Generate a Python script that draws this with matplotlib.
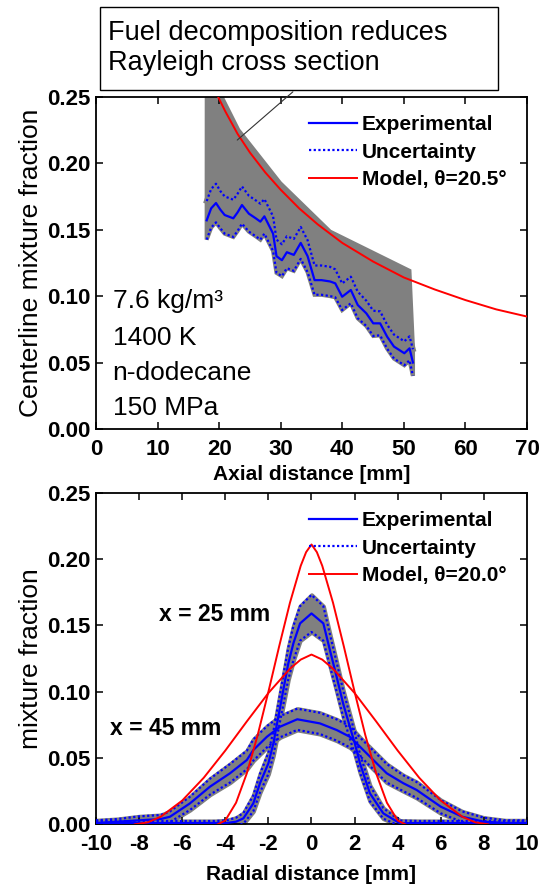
import matplotlib
matplotlib.use('Agg')
import matplotlib.pyplot as plt
from matplotlib.patches import Rectangle
import numpy as np

plt.rcParams['font.family'] = ['Liberation Sans', 'DejaVu Sans']
plt.rcParams['axes.unicode_minus'] = False

# ---- top panel: centerline mixture fraction vs axial distance ----
axial_x = [17.98, 18.7, 19.49, 20.2, 20.90, 22.30, 23.0, 23.71, 24.83, 25.95, 26.7, 27.35,
           28.76, 29.32, 30.2, 31.00, 32.13, 33.25, 34.37, 35.50, 36.62, 38.02, 38.86,
           39.98, 41.39, 42.51, 43.91, 45.03, 46.15, 47.28, 48.40, 50.08, 50.92, 51.48]
axial_exp = [0.157, 0.166, 0.170, 0.165, 0.161, 0.1585, 0.163, 0.1685, 0.162, 0.1585, 0.156, 0.160,
             0.147, 0.130, 0.127, 0.133, 0.131, 0.140, 0.130, 0.112, 0.112, 0.111, 0.1096,
             0.0995, 0.1046, 0.0933, 0.087, 0.0795, 0.0795, 0.0695, 0.062, 0.057, 0.0607, 0.050]
axial_unc = [0.0145, 0.0145, 0.0145, 0.014, 0.014, 0.014, 0.014, 0.014, 0.0135, 0.0135, 0.0135, 0.013,
             0.013, 0.0125, 0.012, 0.012, 0.012, 0.012, 0.012, 0.011, 0.011, 0.011, 0.0105,
             0.010, 0.010, 0.010, 0.0095, 0.0095, 0.009, 0.009, 0.009, 0.009, 0.009, 0.010]
rayleigh_x = [18.0, 23.1, 29.9, 38.0, 50.9]
rayleigh_hi = [0.272, 0.225, 0.185, 0.1485, 0.119]
model_ax_x = [19.5, 21, 23, 25, 27.5, 30, 33, 36, 40, 45, 50, 55, 60, 65, 70]
model_ax_y = [0.253, 0.239, 0.222, 0.208, 0.193, 0.180, 0.166, 0.154, 0.140, 0.126, 0.114,
              0.105, 0.097, 0.090, 0.0846]

# ---- bottom panel: radial profiles ----
r25 = [-10, -8, -6, -5, -4.5, -3.94, -3.5, -3.16, -2.70, -2.39, -2.0, -1.77, -1.54, -1.31,
       -1.08, -0.84, -0.53, 0.0, 0.55, 0.86, 1.17, 1.47, 1.78, 2.01, 2.25, 2.71, 3.33, 4.1,
       5, 6, 8, 10]
exp25 = [0.001, 0.001, 0.001, 0.001, 0.001, 0.001, 0.002, 0.0045, 0.0158, 0.031, 0.046, 0.061,
         0.081, 0.101, 0.121, 0.1365, 0.1515, 0.159, 0.1515, 0.131, 0.111, 0.091, 0.0736, 0.061,
         0.046, 0.0234, 0.0083, 0.0008, 0.001, 0.001, 0.001, 0.001]
unc25 = [0.0015, 0.0015, 0.0015, 0.0015, 0.0015, 0.002, 0.003, 0.004, 0.006, 0.007, 0.008, 0.009,
         0.010, 0.011, 0.012, 0.013, 0.013, 0.014, 0.013, 0.012, 0.011, 0.010, 0.009, 0.008,
         0.007, 0.006, 0.004, 0.002, 0.0015, 0.0015, 0.0015, 0.0015]

r45 = [-10, -9, -8, -7, -6.57, -5.64, -4.71, -3.78, -3.0, -2.70, -2.07, -1.46, -0.66, 0.39,
       1.17, 1.78, 2.25, 2.87, 3.49, 4.26, 4.88, 6, 7, 8, 9, 10]
exp45 = [0.001, 0.002, 0.003, 0.004, 0.0057, 0.0158, 0.0284, 0.0385, 0.0485, 0.056, 0.066,
         0.0736, 0.0792, 0.0761, 0.0711, 0.066, 0.0585, 0.0485, 0.0385, 0.031, 0.0259, 0.0133,
         0.0057, 0.002, 0.001, 0.001]
unc45 = [0.002, 0.002, 0.003, 0.003, 0.004, 0.005, 0.006, 0.007, 0.007, 0.008, 0.008, 0.008,
         0.008, 0.008, 0.008, 0.008, 0.007, 0.007, 0.007, 0.006, 0.006, 0.005, 0.004, 0.003,
         0.002, 0.002]

rm25 = [-4.35, -4, -3.5, -3, -2.5, -2, -1.5, -1, -0.5, -0.25, 0, 0.25, 0.5, 1, 1.5, 2, 2.5,
        3, 3.5, 4, 4.35]
model25 = [0, 0.0029, 0.0163, 0.0385, 0.0671, 0.0999, 0.1342, 0.1670, 0.1949, 0.2052, 0.211,
           0.2052, 0.1949, 0.1670, 0.1342, 0.0999, 0.0671, 0.0385, 0.0163, 0.0029, 0]
rm45 = [-8.2, -7.6, -7, -6, -5, -4, -3, -2, -1, -0.5, 0, 0.5, 1, 2, 3, 4, 5, 6, 7, 7.6, 8.2]
model45 = [0, 0.0015, 0.0057, 0.0179, 0.0351, 0.0556, 0.0776, 0.0990, 0.1173, 0.1242, 0.128,
           0.1242, 0.1173, 0.0990, 0.0776, 0.0556, 0.0351, 0.0179, 0.0057, 0.0015, 0]

GRAY = '#808080'
BLUE = '#0000ff'
RED = '#ff0000'
DOT = (0, (1, 1.1))
TICK_FS = 16
LAB_FS = 19


def style_axes(ax):
    for s in ax.spines.values():
        s.set_linewidth(1.3)
    ax.tick_params(direction='in', top=True, right=True, length=5, width=1.1,
                   labelsize=TICK_FS)
    ax.tick_params(axis='x', pad=7)
    ax.tick_params(axis='y', pad=4)
    for lab in ax.get_xticklabels() + ax.get_yticklabels():
        lab.set_fontweight('bold')
    ax.set_yticks(np.arange(0, 0.26, 0.05))
    ax.set_yticklabels(['%.2f' % v for v in np.arange(0, 0.26, 0.05)], fontweight='bold')


fig = plt.figure(figsize=(5.42, 8.84), dpi=100)
ax1 = fig.add_axes([0.1771, 0.5147, 0.7952, 0.3759])
ax2 = fig.add_axes([0.1771, 0.0675, 0.7952, 0.3751])

legend_kw = dict(loc='upper left', bbox_to_anchor=(0.494, 0.945), frameon=False,
                 prop={'size': 15, 'weight': 'bold'}, handlelength=2.3, handletextpad=0.25,
                 labelspacing=0.42, borderpad=0, borderaxespad=0)

# top panel
ax_exp = np.array(axial_exp)
ax_unc = np.array(axial_unc)
ax_lo = ax_exp - ax_unc
ax_hi = ax_exp + ax_unc
poly_x = list(rayleigh_x) + [axial_x[-1]] + list(axial_x[::-1])
poly_y = list(rayleigh_hi) + [ax_hi[-1]] + list(ax_lo[::-1])
ax1.fill(poly_x, poly_y, facecolor=GRAY, edgecolor=GRAY, lw=3, zorder=1)
ax1.plot(axial_x, ax_hi, color=GRAY, lw=4, zorder=1.5)
ax1.plot(axial_x, axial_exp, color=BLUE, lw=1.6, zorder=3, label='Experimental')
ax1.plot(axial_x, ax_hi, color=BLUE, lw=1.6, ls=DOT, zorder=3, label='Uncertainty')
ax1.plot(axial_x, ax_lo, color=BLUE, lw=1.6, ls=DOT, zorder=3)
ax1.plot(model_ax_x, model_ax_y, color=RED, lw=1.4, zorder=4, label='Model, θ=20.5°')
ax1.set_xlim(0, 70)
ax1.set_ylim(0, 0.25)
ax1.set_xticks(range(0, 71, 10))
style_axes(ax1)
ax1.set_xlabel('Axial distance [mm]', fontsize=15, fontweight='bold', labelpad=4)
ax1.set_ylabel('Centerline mixture fraction', fontsize=LAB_FS, labelpad=3)
ax1.legend(**legend_kw)

for txt, yb in zip(['7.6 kg/m³', '1400 K', 'n-dodecane', '150 MPa'],
                   [0.364, 0.253, 0.147, 0.042]):
    ax1.text(0.0387, yb, txt, transform=ax1.transAxes, fontsize=19, va='baseline', ha='left')

# annotation box above the top panel
fig.patches.append(Rectangle((100 / 542, 1 - 90 / 884), 398 / 542, 83 / 884,
                             transform=fig.transFigure, facecolor='white',
                             edgecolor='black', lw=1.0))
fig.text(108 / 542, 1 - 48 / 884, 'Fuel decomposition reduces\nRayleigh cross section',
         fontsize=19.5, va='center', ha='left', linespacing=1.15)
ax1.annotate('', xy=(22.6, 0.216), xycoords='data',
             xytext=(295 / 542, 1 - 90 / 884), textcoords='figure fraction',
             arrowprops=dict(arrowstyle='-', color='#333333', lw=0.8),
             annotation_clip=False, zorder=5)

# bottom panel
for r, e, u in [(r25, exp25, unc25), (r45, exp45, unc45)]:
    e = np.array(e)
    u = np.array(u)
    ax2.fill_between(r, e - u, e + u, facecolor=GRAY, edgecolor=GRAY, lw=3, zorder=1)
ax2.plot(r25, exp25, color=BLUE, lw=1.6, zorder=3, label='Experimental')
ax2.plot(r25, np.array(exp25) + np.array(unc25), color=BLUE, lw=1.6, ls=DOT, zorder=3,
         label='Uncertainty')
ax2.plot(r25, np.array(exp25) - np.array(unc25), color=BLUE, lw=1.6, ls=DOT, zorder=3)
ax2.plot(r45, exp45, color=BLUE, lw=1.6, zorder=3)
ax2.plot(r45, np.array(exp45) + np.array(unc45), color=BLUE, lw=1.6, ls=DOT, zorder=3)
ax2.plot(r45, np.array(exp45) - np.array(unc45), color=BLUE, lw=1.6, ls=DOT, zorder=3)
ax2.plot(rm25, model25, color=RED, lw=1.4, zorder=4, label='Model, θ=20.0°')
ax2.plot(rm45, model45, color=RED, lw=1.4, zorder=4)
ax2.set_xlim(-10, 10)
ax2.set_ylim(0, 0.25)
ax2.set_xticks(range(-10, 11, 2))
style_axes(ax2)
ax2.set_xlabel('Radial distance [mm]', fontsize=15, fontweight='bold', labelpad=7)
ax2.set_ylabel('mixture fraction', fontsize=LAB_FS, labelpad=3)
ax2.legend(**legend_kw)
ax2.text(-4.51, 0.1585, 'x = 25 mm', fontsize=16.5, fontweight='bold', ha='center', va='center')
ax2.text(-6.76, 0.0724, 'x = 45 mm', fontsize=16.5, fontweight='bold', ha='center', va='center')

fig.savefig('out.png', dpi=100)
